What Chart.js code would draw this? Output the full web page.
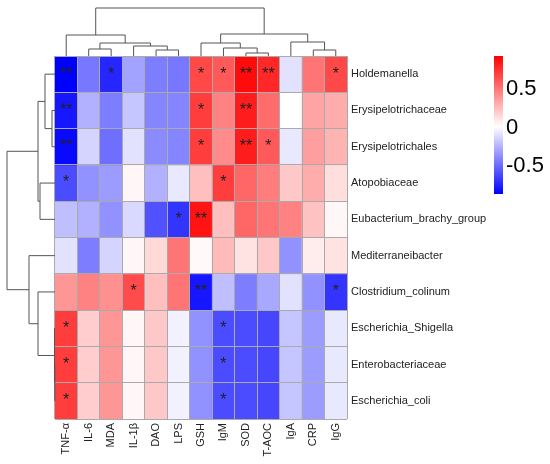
<!DOCTYPE html>
<html lang="en">

<head>
    <meta charset="UTF-8">
    <title>Correlation heatmap</title>
    <script src="https://cdn.jsdelivr.net/npm/chart.js"></script>
    <style>
        body { margin: 0; background: #fff; }
        .holder { width: 550px; height: 464px; position: relative; }
    </style>
</head>

<body>
    <div class="holder">
        <canvas id="heatmap"></canvas>
    </div>

    <script>
        // columns (clinical indexes) and rows (taxa), in dendrogram order
        const colLabels = ['TNF-α', 'IL-6', 'MDA', 'IL-1β', 'DAO', 'LPS', 'GSH', 'IgM', 'SOD', 'T-AOC', 'IgA', 'CRP', 'IgG'];
        const rowLabels = ['Holdemanella', 'Erysipelotrichaceae', 'Erysipelotrichales', 'Atopobiaceae',
            'Eubacterium_brachy_group', 'Mediterraneibacter', 'Clostridium_colinum',
            'Escherichia_Shigella', 'Enterobacteriaceae', 'Escherichia_coli'];

        // correlation values, one row per taxon
        const corr = [
            [-0.88, -0.47, -0.75, -0.32, -0.45, -0.47, 0.66, 0.60, 0.88, 0.78, -0.10, 0.50, 0.66],
            [-0.80, -0.27, -0.45, -0.20, -0.42, -0.42, 0.70, 0.45, 0.82, 0.53, 0.00, 0.33, 0.30],
            [-0.85, -0.15, -0.50, -0.10, -0.40, -0.42, 0.70, 0.42, 0.82, 0.60, -0.08, 0.35, 0.27],
            [-0.62, -0.38, -0.34, 0.03, -0.27, -0.08, 0.23, 0.70, 0.55, 0.47, 0.20, 0.30, 0.12],
            [-0.22, -0.27, -0.38, -0.13, -0.60, -0.70, 0.85, 0.23, 0.55, 0.50, 0.45, 0.22, 0.03],
            [-0.10, -0.45, -0.15, 0.03, 0.14, 0.50, 0.02, 0.25, 0.10, 0.20, -0.38, 0.07, 0.10],
            [0.38, 0.45, 0.40, 0.65, 0.23, 0.50, -0.80, -0.22, -0.45, -0.30, -0.10, -0.38, -0.70],
            [0.70, 0.18, 0.38, 0.03, 0.20, -0.05, -0.38, -0.62, -0.62, -0.64, -0.20, -0.34, -0.08],
            [0.70, 0.18, 0.38, 0.03, 0.20, -0.05, -0.38, -0.62, -0.62, -0.64, -0.20, -0.34, -0.08],
            [0.70, 0.18, 0.38, 0.03, 0.20, -0.05, -0.38, -0.62, -0.62, -0.64, -0.20, -0.34, -0.08]
        ];

        // significance marks
        const stars = [
            ['**', '', '*', '', '', '', '*', '*', '**', '**', '', '', '*'],
            ['**', '', '', '', '', '', '*', '', '**', '', '', '', ''],
            ['**', '', '', '', '', '', '*', '', '**', '*', '', '', ''],
            ['*', '', '', '', '', '', '', '*', '', '', '', '', ''],
            ['', '', '', '', '', '*', '**', '', '', '', '', '', ''],
            ['', '', '', '', '', '', '', '', '', '', '', '', ''],
            ['', '', '', '*', '', '', '**', '', '', '', '', '', '*'],
            ['*', '', '', '', '', '', '', '*', '', '', '', '', ''],
            ['*', '', '', '', '', '', '', '*', '', '', '', '', ''],
            ['*', '', '', '', '', '', '', '*', '', '', '', '', '']
        ];

        // dendrograms: node = [height, left, right], leaf = index
        const colTree = [48, [21, 0, [13, [7, 1, 2], [10, 3, [6, 4, 5]]]],
            [22, [13, 6, [8, 7, [3, 8, 9]]], [14, 10, [6, 11, 12]]]];
        const rowTree = [48, [17, [10, 0, [3, 1, 2]], [15, 3, 4]],
            [26, 5, [17, 6, [0.5, 7, [0.2, 8, 9]]]]];

        // colour key
        const colorMin = -0.88;
        const colorMax = 0.92;
        const keyTicks = [0.5, 0, -0.5];

        function colorFor(v) {
            let t;
            if (v >= 0) {
                t = Math.min(v / colorMax, 1);
                const c = Math.round(255 * (1 - t));
                return `rgb(255,${c},${c})`;
            }
            t = Math.min(v / colorMin, 1);
            const c = Math.round(255 * (1 - t));
            return `rgb(${c},${c},255)`;
        }

        function drawTree(ctx, node, posOf, toPx, horizontal) {
            if (typeof node === 'number') return { pos: posOf(node), h: 0 };
            const a = drawTree(ctx, node[1], posOf, toPx, horizontal);
            const b = drawTree(ctx, node[2], posOf, toPx, horizontal);
            const h = node[0];
            ctx.beginPath();
            if (horizontal) {
                // top dendrogram: pos is x, height goes up
                ctx.moveTo(a.pos, toPx(a.h));
                ctx.lineTo(a.pos, toPx(h));
                ctx.lineTo(b.pos, toPx(h));
                ctx.lineTo(b.pos, toPx(b.h));
            } else {
                // left dendrogram: pos is y, height goes left
                ctx.moveTo(toPx(a.h), a.pos);
                ctx.lineTo(toPx(h), a.pos);
                ctx.lineTo(toPx(h), b.pos);
                ctx.lineTo(toPx(b.h), b.pos);
            }
            ctx.stroke();
            return { pos: (a.pos + b.pos) / 2, h: h };
        }

        const extrasPlugin = {
            id: 'heatmapExtras',
            afterDraw(chart) {
                const ctx = chart.ctx;
                const area = chart.chartArea;
                const xs = chart.scales.x;
                const ys = chart.scales.y;

                // stars
                ctx.save();
                ctx.fillStyle = '#222';
                ctx.font = '16px "Liberation Sans", Arial, sans-serif';
                ctx.textAlign = 'center';
                ctx.textBaseline = 'middle';
                stars.forEach((row, r) => {
                    row.forEach((s, c) => {
                        if (!s) return;
                        ctx.fillText(s, xs.getPixelForValue(c), ys.getPixelForValue(r + 0.5));
                    });
                });
                ctx.restore();

                // dendrograms
                ctx.save();
                ctx.strokeStyle = '#555';
                ctx.lineWidth = 1;
                const treeSpan = 48;
                drawTree(ctx, colTree, i => xs.getPixelForValue(i),
                    h => area.top - h / colTree[0] * treeSpan, true);
                drawTree(ctx, rowTree, i => ys.getPixelForValue(i + 0.5),
                    h => area.left - h / rowTree[0] * treeSpan, false);
                ctx.restore();

                // colour key
                const kx = area.right + 147, kw = 9;
                const ky = area.top, kh = 138;
                const grad = ctx.createLinearGradient(0, ky, 0, ky + kh);
                grad.addColorStop(0, colorFor(colorMax));
                grad.addColorStop(colorMax / (colorMax - colorMin), '#fff');
                grad.addColorStop(1, colorFor(colorMin));
                ctx.save();
                ctx.fillStyle = grad;
                ctx.fillRect(kx, ky, kw, kh);
                ctx.fillStyle = '#000';
                ctx.font = '22px "Liberation Sans", Arial, sans-serif';
                ctx.textAlign = 'left';
                ctx.textBaseline = 'middle';
                keyTicks.forEach(v => {
                    const y = ky + (colorMax - v) / (colorMax - colorMin) * kh;
                    ctx.fillText(String(v), kx + 12, y + 1);
                });
                ctx.restore();
            }
        };

        const labelFont = { family: '"Liberation Sans", Arial, sans-serif', size: 11 };

        new Chart(document.getElementById('heatmap'), {
            type: 'bar',
            data: {
                labels: colLabels,
                datasets: rowLabels.map((name, r) => ({
                    label: name,
                    data: colLabels.map(() => 1),
                    backgroundColor: corr[r].map(colorFor),
                    borderWidth: 0,
                    barPercentage: 1,
                    categoryPercentage: 1
                }))
            },
            options: {
                responsive: true,
                maintainAspectRatio: false,
                animation: false,
                layout: { padding: { left: 55, top: 56, right: 63, bottom: 0 } },
                scales: {
                    x: {
                        type: 'category',
                        offset: true,
                        stacked: true,
                        grid: { display: true, offset: true, color: '#aaa', drawTicks: false, z: 1 },
                        border: { display: false },
                        ticks: { font: labelFont, color: '#222', minRotation: 90, maxRotation: 90, padding: 4, autoSkip: false },
                        afterFit(axis) { axis.height = 45; }
                    },
                    y: {
                        type: 'linear',
                        stacked: true,
                        reverse: true,
                        min: 0,
                        max: 10,
                        ticks: { display: false, stepSize: 1 },
                        grid: { color: '#aaa', drawTicks: false, z: 1 },
                        border: { display: false },
                        afterFit(axis) { axis.width = 0; }
                    },
                    rows: {
                        type: 'category',
                        labels: rowLabels,
                        position: 'right',
                        offset: true,
                        grid: { display: false, drawTicks: false },
                        border: { display: false },
                        ticks: { font: labelFont, color: '#222', padding: 4, autoSkip: false },
                        afterFit(axis) { axis.width = 140; }
                    }
                },
                plugins: {
                    legend: { display: false },
                    tooltip: { enabled: false }
                }
            },
            plugins: [extrasPlugin]
        });
    </script>
</body>

</html>
